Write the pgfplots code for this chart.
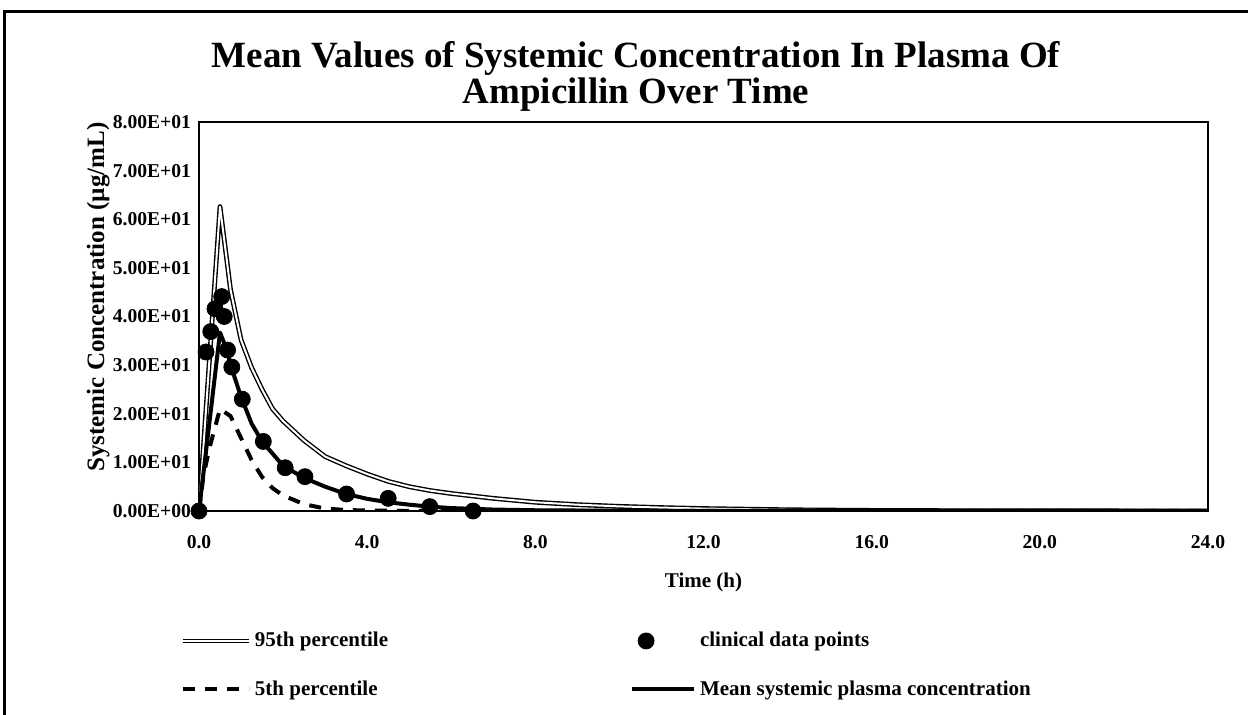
\documentclass[border=0pt]{standalone}
\usepackage{pgfplots}
\pgfplotsset{compat=1.18}
\usepackage{fontspec}
\setmainfont{Liberation Serif}
\begin{document}
\begin{tikzpicture}
\useasboundingbox (0,0) rectangle (624bp,357.5bp);
\draw[line width=1.5bp] (2bp,0) -- (2bp,351.5bp) -- (624bp,351.5bp);
\node[font=\fontsize{18.5bp}{18bp}\selectfont\bfseries, align=center] at (318bp,319.5bp)
  {Mean Values of Systemic Concentration In Plasma Of\\Ampicillin Over Time};
\begin{axis}[
  at={(99.5bp,102bp)}, anchor=south west,
  width=504.5bp, height=194.5bp, scale only axis,
  xmin=0, xmax=24, ymin=0, ymax=80,
  axis line style={line width=1.2bp},
  major tick length=0pt,
  xtick={0,4,...,24},
  xticklabels={0.0,4.0,8.0,12.0,16.0,20.0,24.0},
  ytick={0,10,...,80},
  yticklabels={0.00E+00,1.00E+01,2.00E+01,3.00E+01,4.00E+01,5.00E+01,6.00E+01,7.00E+01,8.00E+01},
  tick label style={font=\fontsize{9.8bp}{11bp}\selectfont\bfseries},
  xticklabel style={yshift=-8.5bp},
  yticklabel style={xshift=-0.5bp},
  xlabel={Time (h)},
  xlabel style={font=\fontsize{10.5bp}{12bp}\selectfont\bfseries, at={(axis description cs:0.5,-0.1825)}, anchor=center},
  ylabel={Systemic Concentration (\textmu g/mL)},
  ylabel style={font=\fontsize{12.5bp}{14bp}\selectfont\bfseries, at={(axis description cs:-0.1,0.55)}, anchor=center, rotate=0},
  legend columns=2,
  legend cell align=left,
  legend style={draw=none, fill=none, at={(axis description cs:-0.025,-0.29)}, anchor=north west,
    font=\fontsize{10.5bp}{12bp}\selectfont\bfseries,
    row sep=11.5bp,
    /tikz/every even column/.append style={column sep=119bp}},
]
\addlegendimage{legend image code/.code={\draw[black,line width=0.7bp,double=white,double distance=1bp] (0bp,0bp) -- (33bp,0bp);}}
\addlegendentry{95th percentile}
\addlegendimage{legend image code/.code={\fill[black] (7bp,0bp) circle (4bp);}}
\addlegendentry{clinical data points}
\addlegendimage{legend image code/.code={\draw[black,line width=2bp,dash pattern=on 6bp off 5bp] (0bp,0bp) -- (33bp,0bp);}}
\addlegendentry{5th percentile}
\addlegendimage{legend image code/.code={\draw[black,line width=2bp] (0bp,0bp) -- (31bp,0bp);}}
\addlegendentry{Mean systemic plasma concentration}

% 95th percentile
\addplot[forget plot, black, line width=0.7bp, double=white, double distance=1bp, line join=round] coordinates {
(0,0) (0.5,62.6) (0.75,45.5) (1,35.2) (1.25,29.5) (1.5,25) (1.75,21) (2,18.5) (2.5,14.5)
(3,11.2) (3.5,9.3) (4,7.6) (4.5,6.1) (5,5.0) (5.5,4.2) (6,3.6) (7,2.6) (8,1.8) (9,1.3)
(10,0.95) (11,0.7) (12,0.5) (14,0.25) (16,0.12) (18,0.06) (20,0.03) (24,0.01)};
% 5th percentile
\addplot[forget plot, black, line width=2bp, dash pattern=on 6bp off 5bp] coordinates {
(0,0) (0.1,7) (0.25,13) (0.5,21) (0.75,19.5) (1,15) (1.25,10.5) (1.5,7) (1.75,4.7) (2,3.2)
(2.5,1.4) (3,0.5) (3.5,0.2) (4,0.1) (5,0.03) (6,0) (24,0)};
% mean
\addplot[forget plot, black, line width=2bp, line join=round] coordinates {
(0,0) (0.5,36.7) (0.67,33) (0.75,30) (1,23.5) (1.25,18) (1.5,14.3) (2,9.3) (2.5,6.8) (3,5.0)
(3.5,3.5) (4,2.5) (4.5,1.8) (5,1.3) (5.5,0.9) (6,0.6) (7,0.3) (8,0.15) (10,0.05) (12,0.02) (24,0)};
% clinical data
\addplot[forget plot, only marks, mark=*, mark size=4bp, black] coordinates {
(0,0) (0.167,32.7) (0.28,36.9) (0.38,41.6) (0.54,44.1) (0.6,40.0) (0.68,33.1) (0.78,29.6)
(1.03,23.0) (1.53,14.3) (2.05,8.9) (2.52,7.06) (3.51,3.5) (4.5,2.6) (5.49,0.9) (6.52,0)};
\end{axis}
\end{tikzpicture}
\end{document}
